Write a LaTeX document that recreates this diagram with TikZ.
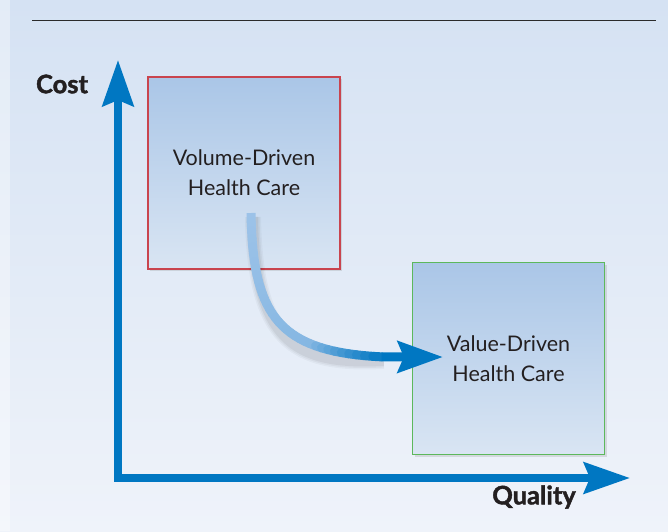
\documentclass[tikz,border=0pt]{standalone}
\usepackage{fontspec}
\setmainfont{Lato}
\newfontfamily\heavyfont{Lato}[BoldFeatures={FakeBold=1.6}]
\usetikzlibrary{arrows.meta,shadows}
\definecolor{bgtop}{HTML}{D5E2F3}
\definecolor{bgbot}{HTML}{EFF3FA}
\definecolor{axisblue}{HTML}{0077C2}
\definecolor{lightarrow}{HTML}{9CC2E8}
\definecolor{boxtop}{HTML}{AAC6E7}
\definecolor{boxbot}{HTML}{D9E5F3}
\definecolor{redb}{HTML}{C9444E}
\definecolor{greenb}{HTML}{5CB85C}
\definecolor{txt}{HTML}{231F20}
\definecolor{rulec}{HTML}{2B2B2B}
\begin{document}
\begin{tikzpicture}[x=1pt,y=-1pt,
  box/.style={minimum width=192pt, minimum height=192pt, line width=1.2pt,
    top color=boxtop, bottom color=boxbot, align=center,
    font=\fontsize{21.5}{30}\selectfont, text=txt, inner sep=0pt,
    drop shadow={shadow xshift=2pt, shadow yshift=-2pt, opacity=0.22}},
  axislabel/.style={font=\heavyfont\fontsize{25.5}{28}\selectfont\bfseries, text=txt},
  axis/.style={line width=8pt, draw=axisblue, line join=miter,
    >={Stealth[length=46pt,width=31pt,inset=6pt]}, <->},
  flowseg/.style={line width=9pt, line cap=round},
]
\useasboundingbox (0,0) rectangle (668,531);
\shade[top color=bgtop, bottom color=bgbot] (0,0) rectangle (668,531);
\fill[white, opacity=0.35] (0,0) rectangle (10,531);

% rule
\coordinate (ruleL) at (32,20.5);
\coordinate (ruleR) at (656,20.5);
\draw[line width=1.5pt, rulec] (ruleL) -- (ruleR);

% boxes
\node[box, draw=redb] (vol) at (244,173) {Volume-Driven\\Health Care};
\node[box, draw=greenb] (val) at (508.5,358.5) {Value-Driven\\Health Care};

% axes
\coordinate (ytip) at (118,60);
\coordinate (origin) at (118,478);
\coordinate (xtip) at (630,478);
\draw[axis] (ytip) -- (origin) -- (xtip);
\node[axislabel] (cost) at (62,84) {Cost};
\node[axislabel] (quality) at (534,497) {Quality};

% curved arrow
\coordinate (cstart) at (251,213);
\coordinate (ctip) at (443,357);
\path (cstart) .. controls (253,335) and (290,362) .. (ctip)
  foreach \i in {0,...,40}{coordinate[pos=\i/40] (p\i)};
\foreach \w/\o in {16/0.03,13/0.04,10/0.05}{
  \draw[line width=\w pt, black, opacity=\o, transform canvas={shift={(2pt,-4pt)}}]
    (cstart) .. controls (253,335) and (290,362) .. (p34);
}
\draw[line width=9pt, line cap=butt, lightarrow] (p0) -- (p1);
\foreach \i in {1,...,33}{
  \pgfmathtruncatemacro\j{\i+1}
  \pgfmathsetmacro\c{\i<24 ? 15*\i/24 : 15+85*(\i-24)/10}
  \draw[flowseg, color=axisblue!\c!lightarrow] (p\i) -- (p\j);
}
\draw[line width=9pt, axisblue, -{Stealth[length=45pt,width=31pt,inset=6pt]}] (p34) -- (ctip);
\end{tikzpicture}
\end{document}
